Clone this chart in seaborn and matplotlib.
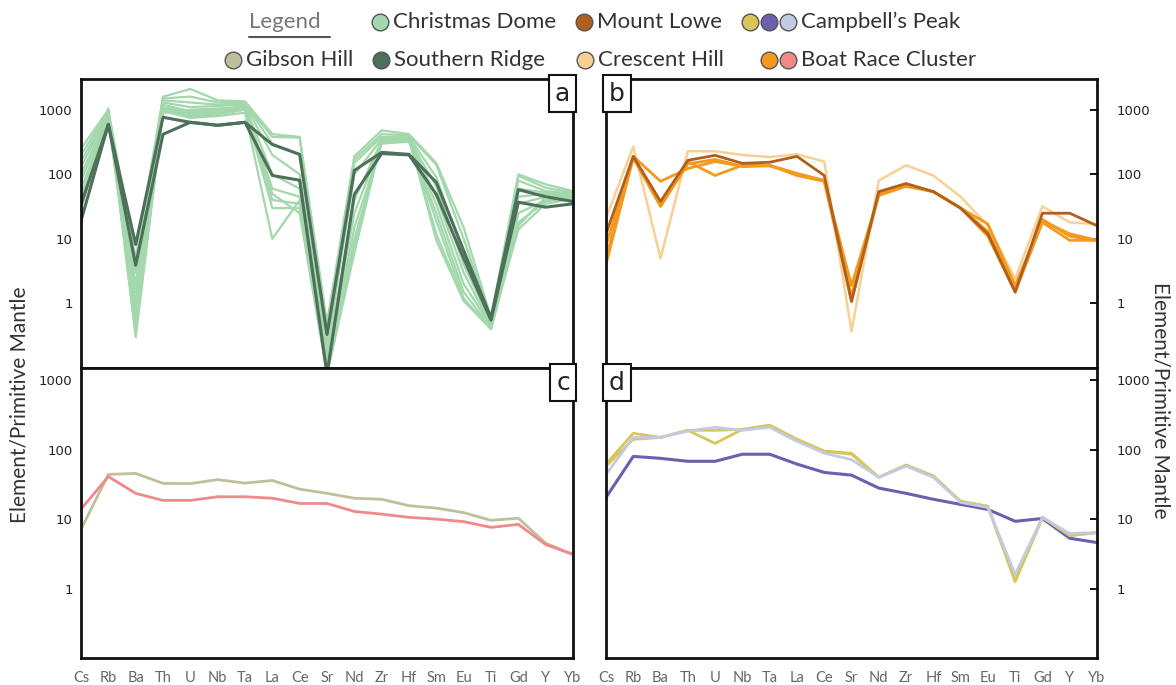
import numpy as np
import pandas as pd
import matplotlib
matplotlib.use('Agg')
import matplotlib.pyplot as plt
from matplotlib.lines import Line2D
import seaborn as sns

sns.set_style('white')
plt.rcParams['font.family'] = ['Lato', 'DejaVu Sans']

elements = ['Cs', 'Rb', 'Ba', 'Th', 'U', 'Nb', 'Ta', 'La', 'Ce', 'Sr',
            'Nd', 'Zr', 'Hf', 'Sm', 'Eu', 'Ti', 'Gd', 'Y', 'Yb']

# panel a - Christmas Dome samples
christmas_dome = [
    [250, 1000, 5.0, 1600, 2100, 1400, 1350, 420, 380, 0.5, 190, 480, 420, 150, 15, 0.6, 100, 70, 55],
    [200, 950, 3.0, 1500, 1600, 1300, 1300, 380, 370, 0.35, 170, 420, 400, 140, 10, 0.55, 95, 62, 52],
    [160, 900, 2.0, 1400, 1300, 1200, 1250, 300, 200, 0.25, 150, 380, 380, 90, 6, 0.5, 80, 55, 50],
    [130, 850, 1.5, 1300, 1100, 1150, 1200, 200, 100, 0.2, 100, 350, 350, 65, 4, 0.5, 60, 52, 48],
    [100, 800, 1.0, 1200, 950, 1000, 1150, 100, 60, 0.15, 40, 330, 340, 45, 3, 0.45, 45, 50, 47],
    [80, 750, 0.8, 1100, 900, 950, 1100, 60, 45, 0.12, 25, 320, 330, 34, 2, 0.45, 35, 45, 46],
    [60, 700, 0.6, 1050, 850, 900, 1050, 40, 35, 0.1, 15, 300, 320, 25, 1.5, 0.42, 25, 40, 45],
    [45, 800, 0.45, 1000, 800, 850, 1000, 30, 30, 0.09, 10, 310, 330, 19, 1.2, 0.4, 18, 38, 44],
    [35, 900, 0.35, 950, 750, 800, 900, 10, 40, 0.08, 8, 330, 350, 12, 1.1, 0.45, 14, 35, 42],
    [28, 1050, 0.3, 900, 1000, 1050, 1100, 50, 25, 0.08, 6, 350, 370, 9.5, 1.1, 0.4, 16, 45, 50],
]
southern_ridge = [
    [34, 595, 8.2, 765, 640, 575, 640, 290, 204, 0.33, 115, 219, 204, 75, 6.6, 0.6, 58, 45, 38],
    [19, 595, 3.9, 417, 640, 575, 640, 96, 81, 0.08, 49, 210, 200, 49, 5, 0.55, 37, 31, 35],
]

# panel b
mount_lowe = [12, 190, 38, 165, 197, 148, 154, 190, 96, 1.07, 54, 72, 54, 30, 12, 1.5, 25, 25, 16]
crescent_hill = [21, 270, 5, 228, 228, 200, 185, 205, 158, 0.37, 80, 138, 96, 45, 16, 2.4, 32, 18, 17]
boat_race_b = [
    [5, 190, 78, 123, 158, 133, 138, 103, 80, 1.9, 47, 65, 54, 30, 17, 1.9, 19, 12, 9.5],
    [4, 180, 32, 158, 96, 138, 138, 96, 78, 1.1, 48, 69, 54, 30, 11, 1.5, 18, 9.5, 9.5],
    [8, 185, 32, 145, 170, 133, 135, 103, 80, 1.3, 50, 68, 54, 30, 13, 1.7, 20, 11, 9.5],
]

# panel c
gibson_hill = [7.1, 44, 45.5, 32.7, 32.5, 37, 33, 36, 27, 23.5, 20, 19.3, 15.6, 14.4, 12.4, 9.6, 10.3, 4.5, 3.1]
boat_race_c = [13.9, 41, 23.5, 18.6, 18.6, 21, 21, 20, 16.8, 16.8, 12.9, 11.8, 10.6, 10, 9.2, 7.6, 8.4, 4.3, 3.1]

# panel d - Campbell's Peak
campbell_yellow = [
    [62, 172, 150, 190, 123, 196, 225, 141, 95, 89, 40, 60, 41, 18, 15.3, 1.26, 10.6, 5.8, 6.4],
    [58, 141, 150, 190, 190, 196, 222, 141, 95, 86, 40, 60, 42, 18, 15.3, 1.3, 10.6, 5.8, 6.4],
]
campbell_blue = [44, 150, 150, 185, 210, 190, 210, 132, 89, 72, 40, 58, 40, 17.4, 14.7, 1.6, 10.6, 6.2, 6.4]
campbell_purple = [20.5, 80, 75, 68, 68, 86, 86, 62, 47, 43, 28, 23.5, 19.3, 16.3, 13.8, 9.3, 10.2, 5.3, 4.6]

c_cd = '#a2d8ab'
c_sr = '#4e6f59'
c_ml = '#b0601c'
c_ch = '#f8d094'
c_br = '#f39a1e'
c_pk = '#f08a8a'
c_gh = '#c0bf9b'
c_cy = '#d6c65c'
c_cb = '#c3cae4'
c_cp = '#6b5fae'

W, H = 1176, 685
fig = plt.figure(figsize=(W / 100, H / 100), dpi=100)


def box(l, t, r, b):
    return [l / W, 1 - b / H, (r - l) / W, (b - t) / H]


ax_a = fig.add_axes(box(81, 79, 573, 368))
ax_c = fig.add_axes(box(81, 368, 573, 658))
ax_b = fig.add_axes(box(606, 79, 1097, 368))
ax_d = fig.add_axes(box(606, 368, 1097, 658))

xpos = np.arange(len(elements))


def draw(ax, vals, color, lw=1.8):
    sns.lineplot(x=xpos, y=vals, ax=ax, color=color, lw=lw, sort=False)


for v in christmas_dome:
    draw(ax_a, v, c_cd, 1.6)
for v in southern_ridge:
    draw(ax_a, v, c_sr, 2.2)

draw(ax_b, crescent_hill, c_ch)
for v in boat_race_b:
    draw(ax_b, v, c_br, 2.0)
draw(ax_b, mount_lowe, c_ml, 2.0)

draw(ax_c, gibson_hill, c_gh, 2.0)
draw(ax_c, boat_race_c, c_pk, 2.0)

draw(ax_d, campbell_purple, c_cp, 2.2)
for v in campbell_yellow:
    draw(ax_d, v, c_cy, 2.0)
draw(ax_d, campbell_blue, c_cb, 2.0)

for ax, ylim in [(ax_a, (0.1, 3000)), (ax_b, (0.1, 3000)), (ax_c, (0.1, 1500)), (ax_d, (0.1, 1500))]:
    ax.set_yscale('log')
    ax.set_ylim(*ylim)
    ax.set_xlim(0, len(elements) - 1)
    ax.set_yticks([1, 10, 100, 1000])
    ax.set_yticklabels(['1', '10', '100', '1000'], family='DejaVu Sans', fontsize=9.5, color='#222')
    ax.minorticks_off()
    ax.set_xticks(xpos)
    ax.tick_params(direction='in', length=5, width=1.4, colors='#111', labelcolor='#222')
    for s in ax.spines.values():
        s.set_color('#111')
        s.set_linewidth(2)
    ax.set_xlabel('')
    ax.set_ylabel('')

for ax in (ax_a, ax_b):
    ax.set_xticklabels([])
for ax in (ax_c, ax_d):
    ax.set_xticklabels(elements, fontsize=10.5, color='#666')
    ax.tick_params(axis='x', pad=9, labelcolor='#666')
for ax in (ax_b, ax_d):
    ax.yaxis.tick_right()
    ax.tick_params(axis='y', direction='in', length=5, width=1.4, pad=14)
for ax in (ax_a, ax_c):
    ax.tick_params(axis='y', pad=6)

# panel letters
for ax, letter, right in [(ax_a, 'a', True), (ax_b, 'b', False), (ax_c, 'c', True), (ax_d, 'd', False)]:
    x = 0.994 if right else 0.006
    ax.text(x, 0.991, letter, transform=ax.transAxes, ha='right' if right else 'left', va='top',
            fontsize=18, family='DejaVu Sans', color='#222',
            bbox=dict(boxstyle='square,pad=0.25', fc='white', ec='#111', lw=1.5))

fig.text(20 / W, 1 - 405 / H, 'Element/Primitive Mantle', rotation=90, ha='center', va='center',
         fontsize=15, color='#333')
fig.text(1160 / W, 1 - 400 / H, 'Element/Primitive Mantle', rotation=-90, ha='center', va='center',
         fontsize=15, color='#333')

# legend
fig.text(249 / W, 1 - 22 / H, 'Legend', ha='left', va='center', fontsize=16, color='#777')
fig.add_artist(Line2D([249 / W, 330 / W], [1 - 37 / H, 1 - 37 / H], transform=fig.transFigure,
                      color='#555', lw=1.5))

legend_rows = [
    (22, [([c_cd], 380, 'Christmas Dome'), ([c_ml], 584, 'Mount Lowe'),
          ([c_cy, c_cp, c_cb], 750, "Campbell\u2019s Peak")]),
    (60, [([c_gh], 233, 'Gibson Hill'), ([c_sr], 381, 'Southern Ridge'),
          ([c_ch], 585, 'Crescent Hill'), ([c_br, c_pk], 769, 'Boat Race Cluster')]),
]
for ypx, items in legend_rows:
    for cols, xpx, label in items:
        for i, col in enumerate(cols):
            fig.add_artist(Line2D([(xpx + 19 * i) / W], [1 - ypx / H], transform=fig.transFigure,
                                  marker='o', ms=12, mfc=col, mec='#555', mew=1, ls='none'))
        fig.text((xpx + 19 * (len(cols) - 1) + 13) / W, 1 - ypx / H, label, ha='left', va='center',
                 fontsize=16, color='#333')

fig.savefig('out.png', dpi=100)
